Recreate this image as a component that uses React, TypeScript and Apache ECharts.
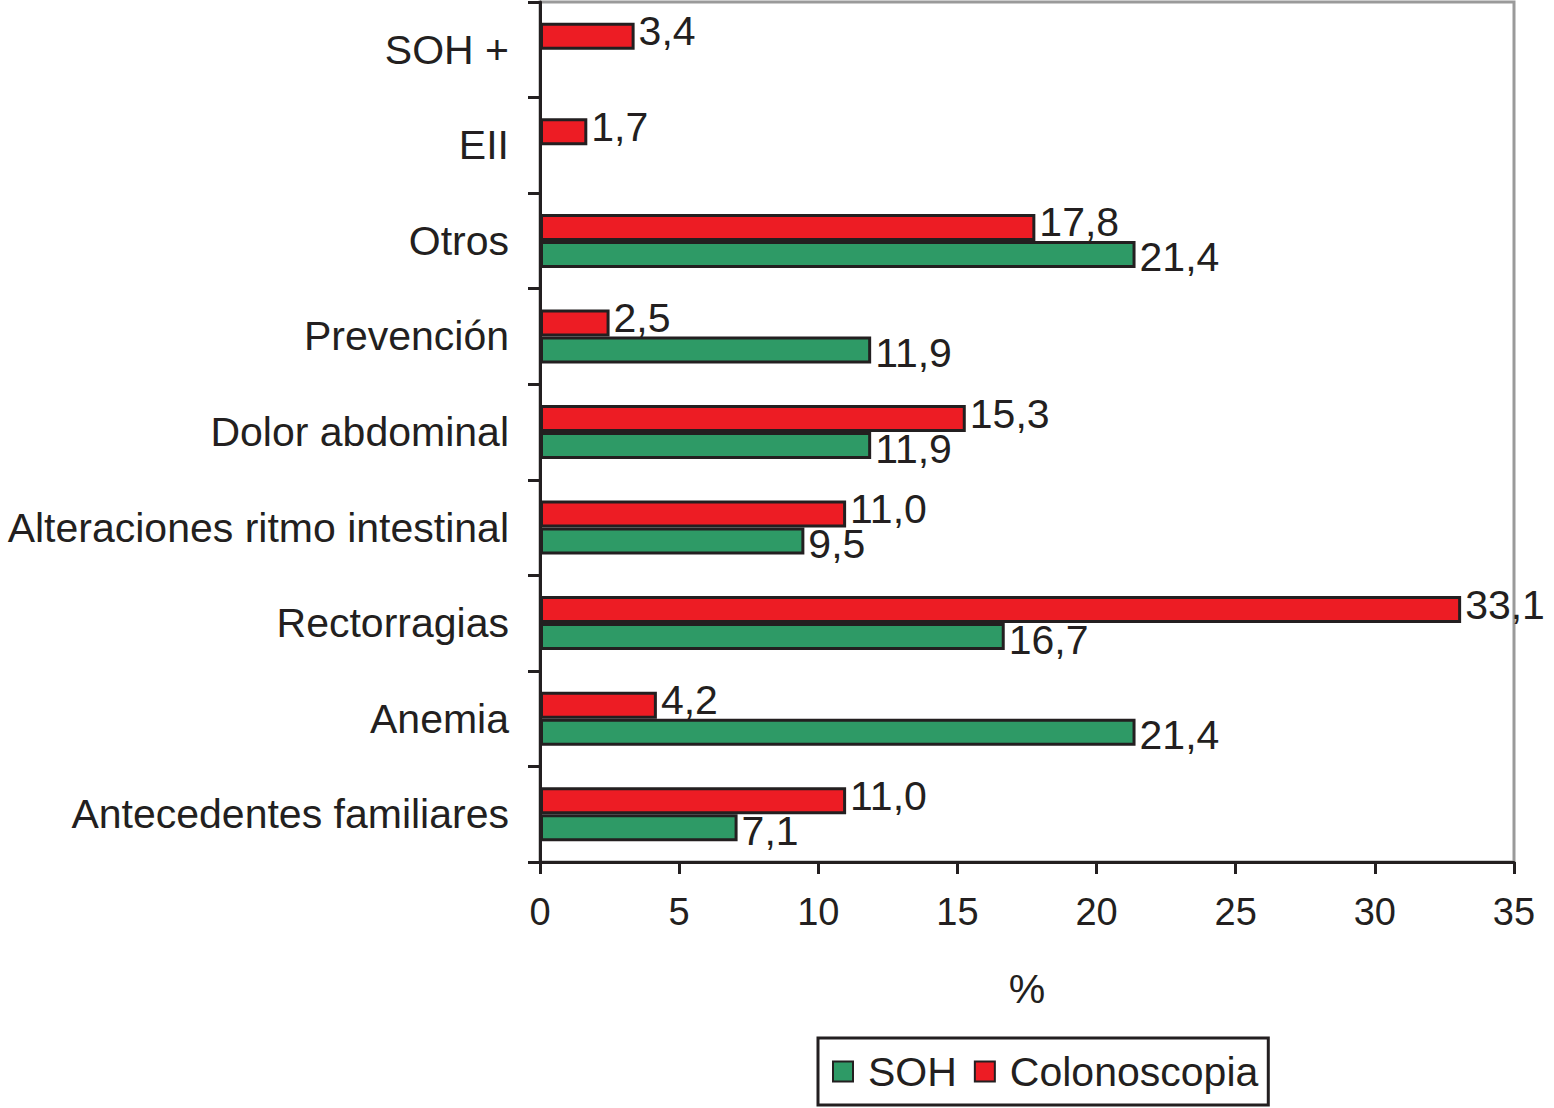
import React, { useEffect, useRef } from "react";
import * as echarts from "echarts";

const categories = [
  "Antecedentes familiares",
  "Anemia",
  "Rectorragias",
  "Alteraciones ritmo intestinal",
  "Dolor abdominal",
  "Prevención",
  "Otros",
  "EII",
  "SOH +",
];
const sohValues: (number | null)[] = [7.1, 21.4, 16.7, 9.5, 11.9, 11.9, 21.4, null, null];
const colonoscopiaValues: (number | null)[] = [11.0, 4.2, 33.1, 11.0, 15.3, 2.5, 17.8, 1.7, 3.4];
const xTicks = { min: 0, max: 35, interval: 5 };

const INK = "#231f20";
const FONT = "'Liberation Sans', Arial, Helvetica, sans-serif";

export default function App() {
  const ref = useRef<HTMLDivElement>(null);
  useEffect(() => {
    if (!ref.current) return;
    const chart = echarts.init(ref.current, null, { renderer: "svg" });
    const fmt = (p: any) => (p.value == null ? "" : Number(p.value).toFixed(1).replace(".", ","));
    const labelCfg = (dy: number) => ({
      show: true,
      position: "right" as const,
      distance: 4,
      offset: [0, dy],
      color: INK,
      fontSize: 41,
      fontFamily: FONT,
      formatter: fmt,
    });
    chart.setOption({
      animation: false,
      backgroundColor: "#ffffff",
      textStyle: { fontFamily: FONT, color: INK },
      grid: {
        left: 540,
        right: 40,
        top: 2,
        bottom: 246,
        show: true,
        borderColor: "#9a9a9a",
        borderWidth: 3,
        containLabel: false,
        outerBoundsMode: "none",
      },
      legend: {
        left: 818,
        top: 1038,
        orient: "horizontal",
        data: ["SOH", "Colonoscopia"],
        icon: "rect",
        itemWidth: 20,
        itemHeight: 20,
        itemGap: 17,
        borderColor: INK,
        borderWidth: 3,
        padding: [13, 10, 13, 14],
        textStyle: { fontSize: 41, color: INK, fontFamily: FONT, padding: [0, 0, 0, 10] },
        itemStyle: { borderColor: INK, borderWidth: 2 },
      },
      xAxis: {
        type: "value",
        min: xTicks.min,
        max: xTicks.max,
        interval: xTicks.interval,
        name: "%",
        nameLocation: "middle",
        nameGap: 106,
        nameTextStyle: { fontSize: 41, color: INK, fontFamily: FONT },
        axisLine: { show: true, lineStyle: { color: INK, width: 3 } },
        axisTick: { show: true, length: 12, lineStyle: { color: INK, width: 3 } },
        axisLabel: { fontSize: 38, color: INK, fontFamily: FONT, margin: 31 },
        splitLine: { show: false },
      },
      yAxis: {
        type: "category",
        data: categories,
        axisLine: { show: true, lineStyle: { color: INK, width: 3 } },
        axisTick: { show: true, length: 12, lineStyle: { color: INK, width: 3 } },
        axisLabel: { fontSize: 41, color: INK, fontFamily: FONT, margin: 31, padding: [0, 0, 10, 0] },
        splitLine: { show: false },
      },
      series: [
        {
          name: "Colonoscopia",
          type: "bar",
          data: colonoscopiaValues,
          barWidth: 27,
          barGap: "0%",
          itemStyle: { color: "#ed1c24", borderColor: INK, borderWidth: 3 },
          label: labelCfg(-5),
        },
        {
          name: "SOH",
          type: "bar",
          data: sohValues,
          barWidth: 27,
          barGap: "0%",
          itemStyle: { color: "#2e9a66", borderColor: INK, borderWidth: 3 },
          label: labelCfg(3),
        },
      ],
    });
    return () => chart.dispose();
  }, []);
  return (
    <div
      ref={ref}
      style={{ position: "fixed", left: 0, top: 0, width: 1554, height: 1108, background: "#fff" }}
    />
  );
}
